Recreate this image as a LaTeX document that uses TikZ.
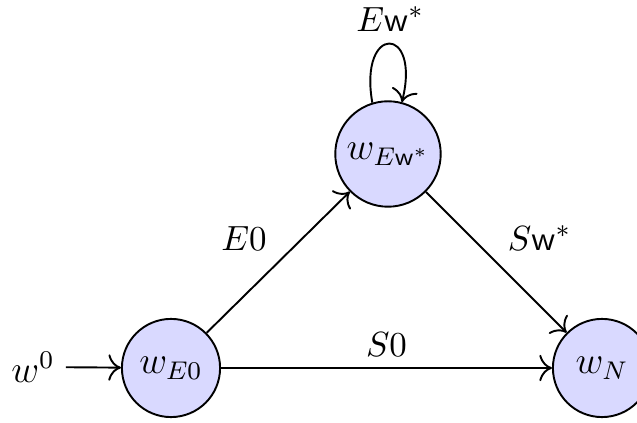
\documentclass[tikz,border=0pt]{standalone}
\usetikzlibrary{arrows.meta}
\begin{document}
\begin{tikzpicture}[x=0.011cm,y=-0.011cm,>={To[scale=1.35]},
  state/.style={circle,draw,semithick,fill=blue!15,minimum size=1.08cm,inner sep=0pt,font=\fontsize{11.5}{14}\selectfont},
  conn/.style={->,semithick},
  lab/.style={font=\fontsize{11}{13}\selectfont}]
\useasboundingbox (0,0) rectangle (637,423);
\node[state] (e0) at (171,368) {$w_{E0}$};
\node[state,minimum size=1.16cm] (ew) at (388,154) {$w_{E\mathsf{w}^*}$};
\node[state] (n) at (602,368) {$w_N$};
\node[font=\fontsize{11.5}{14}\selectfont] (w0) at (33,367) {$w^0$};
\node[lab,inner sep=1pt] (lbl) at (390,19) {$E\mathsf{w}^*$};
\draw[conn] (w0) -- (e0);
\draw[conn] (e0) -- node[midway,above left,lab] {$E0$} (ew);
\draw[conn] (ew) -- node[midway,above right,lab] {$S\mathsf{w}^*$} (n);
\draw[conn] (e0) -- node[midway,above,lab] {$S0$} (n);
\draw[conn] (ew.107) .. controls +(-100:80) and +(-76:80) .. (ew.75);
\end{tikzpicture}
\end{document}
